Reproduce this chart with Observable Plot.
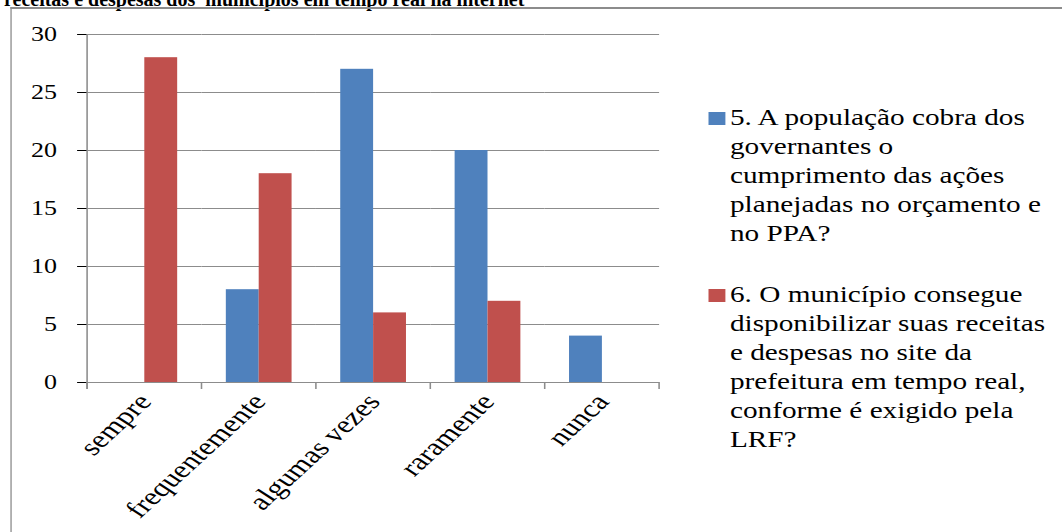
<!DOCTYPE html>
<html><head><meta charset="utf-8">
<script src="https://cdn.jsdelivr.net/npm/d3@7"></script>
<script src="https://cdn.jsdelivr.net/npm/@observablehq/plot@0.6"></script>
<style>
html,body{margin:0;padding:0;background:#fff;width:1062px;height:532px;overflow:hidden;position:relative;}
#title{position:absolute;left:4px;top:-11px;font:bold 20px/20px "Liberation Serif","Times New Roman",serif;white-space:pre;color:#000;}
#stretch{position:absolute;left:0;top:0;width:817px;height:532px;transform:scaleX(1.3);transform-origin:0 0;}
#frame{position:absolute;left:7.5px;top:7px;width:900px;height:600px;border-left:1.6px solid #8c8c8c;border-top:2px solid #8c8c8c;}
#chart{position:absolute;left:0;top:0;}
#legend{position:absolute;left:545px;top:103px;font:22.5px/29px "Liberation Serif","Times New Roman",serif;color:#000;}
.item{display:flex;align-items:flex-start;}
.item + .item{margin-top:32px;}
.sw{width:13px;height:13px;margin-top:9px;margin-right:3.5px;flex:none;}
.lab{white-space:pre;}
g[aria-label="y-axis tick"]{stroke:#8c8c8c;}
g[aria-label="y-axis"] .tick line{stroke:#8c8c8c;}
g[aria-label="fx-axis tick label"]{font-size:24.5px;}
g[aria-label="fx-axis"] text{font-size:24.5px;}
</style></head>
<body>
<div id="title"></div>
<div id="stretch">
  <div id="frame"></div>
  <div id="chart"></div>
  <div id="legend"></div>
</div>
<script>
const titleText = "receitas e despesas dos  municípios em tempo real na internet";
const categories = ["sempre", "frequentemente", "algumas vezes", "raramente", "nunca"];
const seriesKeys = ["q5", "q6"];
const seriesNames = [
  "5. A população cobra dos\ngovernantes o\ncumprimento das ações\nplanejadas no orçamento e\nno PPA?",
  "6. O município consegue\ndisponibilizar suas receitas\ne despesas no site da\nprefeitura em tempo real,\nconforme é exigido pela\nLRF?"
];
const q5Values = [0, 8, 27, 20, 4];
const q6Values = [28, 18, 6, 7, 0];
const yTicks = [0, 5, 10, 15, 20, 25, 30];
const colors = ["#4F81BD", "#C0504D"];

document.getElementById("title").textContent = titleText;

const data = categories.flatMap((c, i) => [
  {cat: c, s: seriesKeys[0], v: q5Values[i]},
  {cat: c, s: seriesKeys[1], v: q6Values[i]}
]);

const chart = Plot.plot({
  width: 520, height: 532,
  marginLeft: 65.4, marginRight: 12.3, marginTop: 34, marginBottom: 150,
  style: {fontFamily: '"Liberation Serif", "Times New Roman", serif', fontSize: "20px", color: "#000", background: "transparent", overflow: "visible"},
  fx: {domain: categories, padding: 0, axis: "bottom", label: null, tickRotate: -50, tickSize: 0, tickPadding: 15},
  x: {domain: seriesKeys, paddingInner: 0, paddingOuter: 0.74, axis: null, round: false},
  y: {domain: [0, 30], ticks: yTicks, tickSize: 7.7, tickPadding: 16, label: null},
  color: {domain: seriesKeys, range: colors},
  marks: [
    Plot.ruleY(yTicks, {stroke: "#8c8c8c", strokeWidth: 1.2}),
    Plot.barY(data, {fx: "cat", x: "s", y: "v", fill: "s"})
  ]
});
document.getElementById("chart").appendChild(chart);

const svg = d3.select(chart.tagName.toLowerCase() === "svg" ? chart : chart.querySelector("svg"));
const fx = chart.scale("fx"), y = chart.scale("y");
const y0 = y.apply(0), yTop = y.apply(30);
const edges = categories.map(c => fx.apply(c)).concat(fx.apply(categories[categories.length - 1]) + fx.bandwidth);
const g = svg.append("g").attr("stroke", "#8c8c8c").attr("stroke-width", 1.2);
g.append("line").attr("x1", edges[0]).attr("x2", edges[0]).attr("y1", yTop).attr("y2", y0 + 7);
edges.forEach(x => g.append("line").attr("x1", x).attr("x2", x).attr("y1", y0).attr("y2", y0 + 7));

const legend = d3.select("#legend");
seriesNames.forEach((name, i) => {
  const it = legend.append("div").attr("class", "item");
  it.append("div").attr("class", "sw").style("background", colors[i]);
  it.append("div").attr("class", "lab").text(name);
});
</script>
</body></html>
